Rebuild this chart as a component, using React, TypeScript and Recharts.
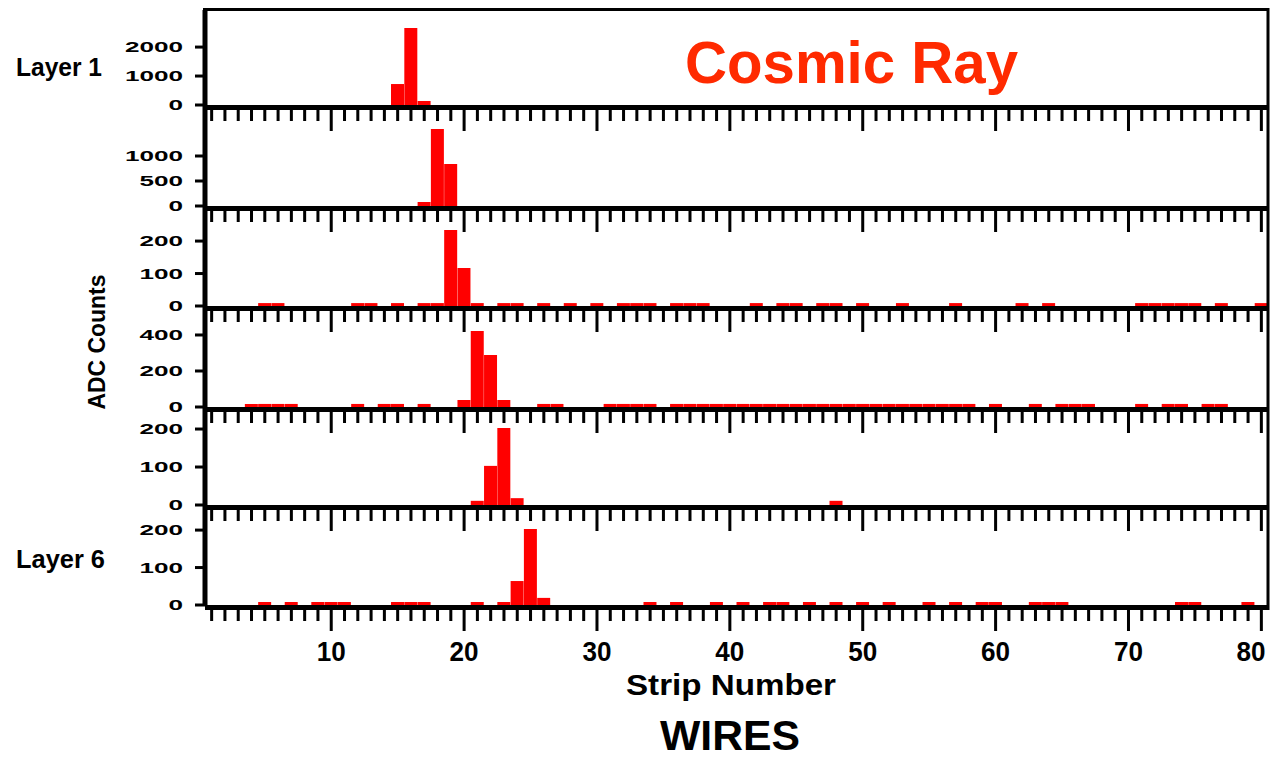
import { BarChart, Bar, XAxis, YAxis } from 'recharts'

// strip numbers 1..80 along the wire plane
const strips = Array.from({ length: 80 }, (_, i) => i + 1)

// ADC counts per strip, [strip, counts]; strips not listed read 0
const layer1Hits: [number, number][] = [[15, 724], [16, 2655], [17, 138]]
const layer2Hits: [number, number][] = [[17, 80], [18, 1540], [19, 840]]
const layer3Hits: [number, number][] = [
  [5, 9], [6, 9], [12, 9], [13, 9], [15, 9], [17, 9], [18, 9],
  [19, 234], [20, 117], [21, 9], [23, 9], [24, 9], [26, 9], [28, 9], [30, 9],
  [32, 9], [33, 9], [34, 9], [36, 9], [37, 9], [38, 9], [42, 9], [44, 9], [45, 9],
  [47, 9], [48, 9], [50, 9], [53, 9], [57, 9], [62, 9], [64, 9],
  [71, 9], [72, 9], [73, 9], [74, 9], [75, 9], [77, 9], [80, 9],
]
const layer4Hits: [number, number][] = [
  [4, 17], [5, 17], [6, 17], [7, 17], [12, 17], [14, 17], [15, 17], [17, 17],
  [20, 39], [21, 422], [22, 289], [23, 39], [26, 17], [27, 17],
  [31, 17], [32, 17], [33, 17], [34, 17],
  [36, 17], [37, 17], [38, 17], [39, 17], [40, 17], [41, 17], [42, 17], [43, 17],
  [44, 17], [45, 17], [46, 17], [47, 17], [48, 17], [49, 17],
  [50, 17], [51, 17], [52, 17], [53, 17], [54, 17], [55, 17], [56, 17], [57, 17], [58, 17],
  [60, 17], [63, 17], [65, 17], [66, 17], [67, 17], [71, 17], [73, 17], [74, 17],
  [76, 17], [77, 17],
]
const layer5Hits: [number, number][] = [[21, 11], [22, 103], [23, 203], [24, 18], [48, 11]]
const layer6Hits: [number, number][] = [
  [5, 8], [7, 8], [9, 8], [10, 8], [11, 8], [15, 8], [16, 8], [17, 8], [21, 8], [23, 8],
  [24, 64], [25, 203], [26, 19],
  [34, 8], [36, 8], [39, 8], [41, 8], [43, 8], [44, 8], [46, 8], [48, 8], [50, 8],
  [52, 8], [55, 8], [57, 8], [59, 8], [60, 8], [63, 8], [64, 8], [65, 8],
  [74, 8], [75, 8], [79, 8],
]

const layerHits = [layer1Hits, layer2Hits, layer3Hits, layer4Hits, layer5Hits, layer6Hits]
const yTicks = [[0, 1000, 2000], [0, 500, 1000], [0, 100, 200], [0, 200, 400], [0, 100, 200], [0, 100, 200]]
const yMax = [3280, 2020, 308, 561, 258, 267]

// panel geometry (px)
const plotTop = [10, 105, 206, 306, 407, 505]
const baseline = [105, 206, 306, 407, 505, 605]
const FONT = '"Liberation Sans", Arial, sans-serif'

function StripTick(props: any) {
  const { x, y, payload, showLabel } = props
  const major = payload.value % 10 === 0
  // last label sits a bit left of its tick so it stays inside the frame
  const lx = Math.min(x, 1251)
  return (
    <g>
      <rect x={x - 1.5} y={y + 5} width={3} height={major ? 21 : 11} fill="#000" />
      {showLabel && major && (
        <text
          x={lx}
          y={y + 56}
          textAnchor="middle"
          fontSize={28}
          fontWeight="bold"
          fontFamily={FONT}
          fill="#000"
          textLength={29}
          lengthAdjust="spacingAndGlyphs"
        >
          {payload.value}
        </text>
      )}
    </g>
  )
}

function CountTick(props: any) {
  const { x, y, payload } = props
  const label = String(payload.value)
  return (
    <text
      x={x}
      y={y + 5}
      textAnchor="end"
      fontSize={15}
      fontWeight="bold"
      fontFamily={FONT}
      fill="#000"
      textLength={label.length * 14.5}
      lengthAdjust="spacingAndGlyphs"
    >
      {label}
    </text>
  )
}

function Panel({ index }: { index: number }) {
  const hits = new Map(layerHits[index])
  const data = strips.map(s => ({ strip: s, count: hits.get(s) ?? 0 }))
  const last = index === layerHits.length - 1
  const axisH = last ? 70 : 30
  const plotH = baseline[index] - plotTop[index]

  return (
    <div style={{ position: 'absolute', left: 0, top: plotTop[index] }}>
      <BarChart
        width={1271}
        height={plotH + axisH}
        data={data}
        margin={{ top: 0, right: 3, bottom: 0, left: 125 }}
        barCategoryGap={0}
        barGap={0}
      >
        <XAxis
          dataKey="strip"
          type="category"
          interval={0}
          height={axisH}
          tickLine={false}
          tickSize={0}
          tickMargin={0}
          axisLine={{ stroke: '#000', strokeWidth: 5, transform: 'translate(0 2.5)' } as any}
          tick={(p: any) => <StripTick {...p} showLabel={last} />}
        />
        <YAxis
          width={80}
          domain={[0, yMax[index]]}
          ticks={yTicks[index]}
          interval={0}
          allowDataOverflow
          tickSize={10}
          tickMargin={12}
          tickLine={{ stroke: '#000', strokeWidth: 3 }}
          axisLine={{ stroke: '#000', strokeWidth: 5 }}
          tick={<CountTick />}
        />
        <Bar dataKey="count" fill="#ff0000" isAnimationActive={false} />
      </BarChart>
    </div>
  )
}

export default function App() {
  return (
    <div style={{ position: 'absolute', left: 0, top: 0, width: 1271, height: 760, background: '#fff', overflow: 'hidden' }}>
      {layerHits.map((_, i) => (
        <Panel key={i} index={i} />
      ))}
      <svg width={1271} height={760} style={{ position: 'absolute', left: 0, top: 0, pointerEvents: 'none' }}>
        <line x1={203} y1={9.5} x2={1269} y2={9.5} stroke="#000" strokeWidth={3} />
        <line x1={1268} y1={8} x2={1268} y2={610} stroke="#000" strokeWidth={3} />
        <g fontFamily={FONT} fontWeight="bold" fill="#000">
          <text x={16} y={76} fontSize={25} textLength={86} lengthAdjust="spacingAndGlyphs">Layer 1</text>
          <text x={16} y={568} fontSize={25} textLength={89} lengthAdjust="spacingAndGlyphs">Layer 6</text>
          <text transform="translate(105 342) rotate(-90)" textAnchor="middle" fontSize={24} textLength={135} lengthAdjust="spacingAndGlyphs">
            ADC Counts
          </text>
          <text x={626} y={695} fontSize={30} textLength={210} lengthAdjust="spacingAndGlyphs">Strip Number</text>
          <text x={660} y={750} fontSize={42} textLength={140} lengthAdjust="spacingAndGlyphs">WIRES</text>
          <text x={685} y={83} fontSize={60} fill="#ff2a00" textLength={333} lengthAdjust="spacingAndGlyphs">Cosmic Ray</text>
        </g>
      </svg>
    </div>
  )
}
